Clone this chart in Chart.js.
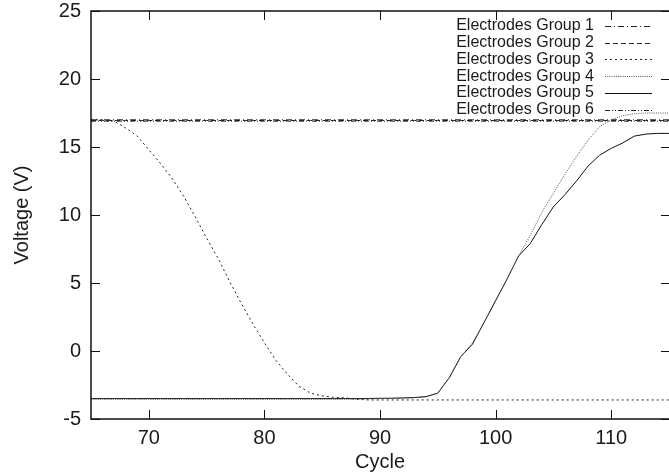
<!DOCTYPE html>
<html>
<head>
<meta charset="utf-8">
<script src="https://cdn.jsdelivr.net/npm/chart.js@4.4.1/dist/chart.umd.min.js"></script>
<style>
  html, body { margin: 0; padding: 0; background: #fff; }
  #wrap { width: 669px; height: 475px; }
</style>
</head>
<body>
<div id="wrap"><canvas id="myChart" width="669" height="475"></canvas></div>
<script>
var cycles = [65, 66, 67, 68, 69, 70, 71, 72, 73, 74, 75, 76, 77, 78, 79, 80, 81, 82, 83, 84, 85, 86, 87, 88, 89, 90,
    91, 92, 93, 94, 95, 96, 97, 98, 99, 100, 101, 102, 103, 104, 105, 106, 107, 108, 109, 110, 111, 112, 113, 114, 115];

var xTicks = [70, 80, 90, 100, 110];
var yTicks = [-5, 0, 5, 10, 15, 20, 25];

var seriesNames = ['Electrodes Group 1', 'Electrodes Group 2', 'Electrodes Group 3',
    'Electrodes Group 4', 'Electrodes Group 5', 'Electrodes Group 6'];

var group1 = [17, 17, 17, 17, 17, 17, 17, 17, 17, 17, 17, 17, 17, 17, 17, 17, 17, 17, 17, 17, 17, 17, 17, 17, 17, 17,
    17, 17, 17, 17, 17, 17, 17, 17, 17, 17, 17, 17, 17, 17, 17, 17, 17, 17, 17, 17, 17, 17, 17, 17, 17];
var group2 = [16.95, 16.95, 16.95, 16.95, 16.95, 16.95, 16.95, 16.95, 16.95, 16.95, 16.95, 16.95, 16.95, 16.95, 16.95, 16.95, 16.95,
    16.95, 16.95, 16.95, 16.95, 16.95, 16.95, 16.95, 16.95, 16.95, 16.95, 16.95, 16.95, 16.95, 16.95, 16.95, 16.95, 16.95,
    16.95, 16.95, 16.95, 16.95, 16.95, 16.95, 16.95, 16.95, 16.95, 16.95, 16.95, 16.95, 16.95, 16.95, 16.95, 16.95, 16.95];
var group3 = [17, 17, 16.9, 16.4, 15.8, 14.8, 13.8, 12.7, 11.4, 9.9, 8.3, 6.8, 5.1, 3.5, 2.0, 0.6, -0.7, -1.7, -2.6, -3.1,
    -3.3, -3.4, -3.45, -3.55, -3.6, -3.6, -3.6, -3.6, -3.6, -3.6, -3.6, -3.6, -3.6, -3.6, -3.6, -3.6, -3.6, -3.6, -3.6,
    -3.6, -3.6, -3.6, -3.6, -3.6, -3.6, -3.6, -3.6, -3.6, -3.6, -3.6, -3.6];
var group4 = [-3.55, -3.55, -3.55, -3.55, -3.55, -3.55, -3.55, -3.55, -3.55, -3.55, -3.55, -3.55, -3.55, -3.55, -3.55,
    -3.55, -3.55, -3.55, -3.55, -3.55, -3.55, -3.55, -3.55, -3.53, -3.52, -3.5, -3.49, -3.47, -3.44, -3.37, -3.12,
    -1.95, -0.4, 0.6, 2.1, 3.7, 5.3, 7.0, 8.5, 10.2, 11.6, 13.0, 14.3, 15.5, 16.5, 17.0, 17.3, 17.45, 17.5, 17.5, 17.5];
var group5 = [-3.5, -3.5, -3.5, -3.5, -3.5, -3.5, -3.5, -3.5, -3.5, -3.5, -3.5, -3.5, -3.5, -3.5, -3.5, -3.5, -3.5,
    -3.5, -3.5, -3.5, -3.5, -3.5, -3.5, -3.5, -3.49, -3.48, -3.47, -3.45, -3.42, -3.35, -3.1,
    -1.95, -0.4, 0.5, 2.1, 3.7, 5.3, 7.0, 7.9, 9.3, 10.6, 11.5, 12.5, 13.6, 14.4, 14.9, 15.3, 15.8, 15.95, 16.0, 16.0];
var group6 = [16.9, 16.9, 16.9, 16.9, 16.9, 16.9, 16.9, 16.9, 16.9, 16.9, 16.9, 16.9, 16.9, 16.9, 16.9, 16.9, 16.9,
    16.9, 16.9, 16.9, 16.9, 16.9, 16.9, 16.9, 16.9, 16.9, 16.9, 16.9, 16.9, 16.9, 16.9, 16.9, 16.9, 16.9, 16.9, 16.9,
    16.9, 16.9, 16.9, 16.9, 16.9, 16.9, 16.9, 16.9, 16.9, 16.9, 16.9, 16.9, 16.9, 16.9, 16.9];

var allGroups = [group1, group2, group3, group4, group5, group6];
var dashes = [[6, 3, 1, 3], [5, 3], [2, 3], [1, 1.2], [], [5, 2, 1, 2, 1, 2]];
var lineColors = ['#222', '#222', '#222', '#555', '#111', '#222'];

var FONT = '"Liberation Sans", Arial, Helvetica, sans-serif';

function toPoints(vals) {
    var pts = [];
    for (let i = 0; i < cycles.length; i++) {
        pts.push({x: cycles[i], y: vals[i]});
    }
    return pts;
}

// gnuplot-like frame with inward ticks on all four sides
var framePlugin = {
    id: 'frame',
    afterDatasetsDraw: function (chart) {
        var ctx = chart.ctx;
        var a = chart.chartArea;
        var xs = chart.scales.x, ys = chart.scales.y;
        ctx.save();
        ctx.strokeStyle = '#111';
        ctx.lineWidth = 1.5;
        ctx.setLineDash([]);
        ctx.beginPath();
        ctx.moveTo(a.right + 2, a.top);
        ctx.lineTo(a.left, a.top);
        ctx.lineTo(a.left, a.bottom);
        ctx.lineTo(a.right + 2, a.bottom);
        ctx.stroke();
        ctx.lineWidth = 1;
        var len = 9;
        ctx.beginPath();
        xTicks.forEach(function (t) {
            var px = Math.round(xs.getPixelForValue(t)) + 0.5;
            ctx.moveTo(px, a.bottom);
            ctx.lineTo(px, a.bottom - len);
            ctx.moveTo(px, a.top);
            ctx.lineTo(px, a.top + len);
        });
        yTicks.forEach(function (t) {
            var py = Math.round(ys.getPixelForValue(t)) + 0.5;
            ctx.moveTo(a.left, py);
            ctx.lineTo(a.left + len, py);
            ctx.moveTo(a.right + 1, py);
            ctx.lineTo(a.right + 1 - len, py);
        });
        ctx.stroke();

        // key: text right aligned, line sample on the right
        ctx.font = '16px ' + FONT;
        ctx.textAlign = 'right';
        ctx.textBaseline = 'middle';
        chart.data.datasets.forEach(function (ds, i) {
            var y = 26 + i * 16.7;
            ctx.fillStyle = '#1a1a1a';
            ctx.fillText(ds.label, 594, y);
            ctx.strokeStyle = ds.borderColor;
            ctx.lineWidth = ds.borderWidth;
            ctx.setLineDash(ds.borderDash);
            ctx.beginPath();
            ctx.moveTo(605, Math.round(y) + 0.5);
            ctx.lineTo(652, Math.round(y) + 0.5);
            ctx.stroke();
        });
        ctx.restore();
    }
};

function drawChart() {
    var datasets = [];
    for (let i = 0; i < allGroups.length; i++) {
        datasets.push({
            label: seriesNames[i],
            data: toPoints(allGroups[i]),
            borderColor: lineColors[i],
            borderWidth: 1,
            borderDash: dashes[i],
            pointRadius: 0,
            fill: false,
            tension: 0
        });
    }

    var ctx = document.getElementById('myChart');
    new Chart(ctx, {
        type: 'line',
        data: {datasets: datasets},
        options: {
            responsive: false,
            animation: false,
            layout: {padding: {top: 11, right: 0, left: 0, bottom: 0}},
            plugins: {legend: {display: false}, tooltip: {enabled: false}},
            scales: {
                x: {
                    type: 'linear',
                    min: 65,
                    max: 115,
                    afterBuildTicks: function (s) {
                        s.ticks = xTicks.map(function (v) { return {value: v}; });
                    },
                    afterFit: function (s) {
                        s.height = 56;
                        s.paddingLeft = 0;
                        s.paddingRight = 0;
                    },
                    grid: {display: false, drawTicks: false},
                    border: {display: false},
                    ticks: {color: '#1a1a1a', font: {size: 20, family: FONT}, padding: 7, maxRotation: 0},
                    title: {display: true, text: 'Cycle', color: '#1a1a1a',
                        font: {size: 20, family: FONT}, padding: {top: 0, bottom: 1}}
                },
                y: {
                    type: 'linear',
                    min: -5,
                    max: 25,
                    afterBuildTicks: function (s) {
                        s.ticks = yTicks.map(function (v) { return {value: v}; });
                    },
                    afterFit: function (s) {
                        s.width = 91;
                        s.paddingTop = 0;
                        s.paddingBottom = 0;
                    },
                    grid: {display: false, drawTicks: false},
                    border: {display: false},
                    ticks: {color: '#1a1a1a', font: {size: 20, family: FONT}, padding: 10},
                    title: {display: true, text: 'Voltage (V)', color: '#1a1a1a',
                        font: {size: 20, family: FONT}, padding: {top: 10, bottom: 0}}
                }
            }
        },
        plugins: [framePlugin]
    });
}

drawChart();
</script>
</body>
</html>
